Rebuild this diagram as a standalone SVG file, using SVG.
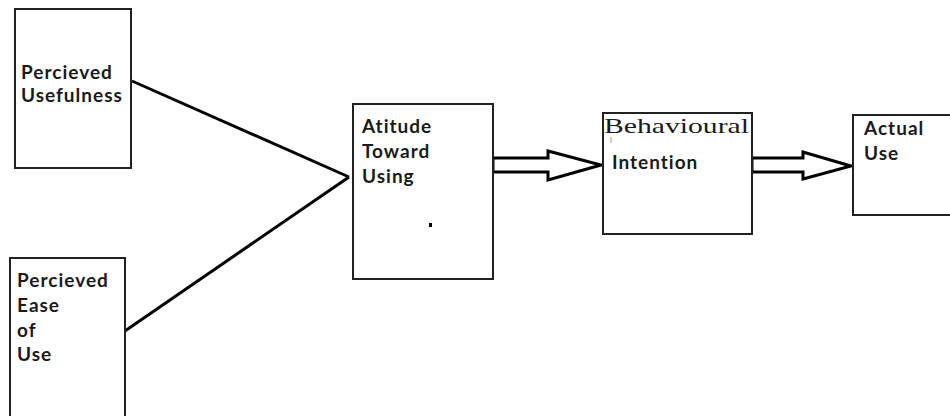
<svg xmlns="http://www.w3.org/2000/svg" width="950" height="416" viewBox="0 0 950 416">
<style>
.box{fill:#fff;stroke:#222;stroke-width:2}
.lbl{font-family:Lato,"Open Sans","Liberation Sans",sans-serif;font-size:19px;font-weight:700;letter-spacing:1px;fill:#1a1a1a}
.serif{font-family:"Liberation Serif","DejaVu Serif",serif;font-size:21px;fill:#1a1a1a}
.conn{fill:none;stroke:#000;stroke-width:3;stroke-linejoin:miter}
.dbl{fill:#fff;stroke:#000;stroke-width:3;stroke-linejoin:miter}
</style>
<rect width="950" height="416" fill="#fff"/>
<g id="connectors">
<line class="conn" x1="132" y1="81" x2="349" y2="177"/>
<line class="conn" x1="122" y1="333" x2="349" y2="177"/>
<polygon class="dbl" points="493,158 548,158 548,151 601,165 548,180 548,172 493,172"/>
<polygon class="dbl" points="752,158 803,158 803,152 851,166 803,179 803,172 752,172"/>
</g>
<g id="perceived-usefulness">
<rect class="box" x="15" y="9" width="116" height="159"/>
<text class="lbl" x="21" y="79">Percieved</text>
<text class="lbl" x="21" y="102">Usefulness</text>
</g>
<g id="perceived-ease-of-use">
<rect class="box" x="10" y="258" width="115" height="170"/>
<text class="lbl" x="17" y="287">Percieved</text>
<text class="lbl" x="17" y="312">Ease</text>
<text class="lbl" x="17" y="337">of</text>
<text class="lbl" x="17" y="361">Use</text>
</g>
<g id="attitude-toward-using">
<rect class="box" x="353" y="104" width="140" height="175"/>
<text class="lbl" x="362" y="133">Atitude</text>
<text class="lbl" x="362" y="158">Toward</text>
<text class="lbl" x="362" y="183">Using</text>
<rect x="429" y="223" width="3" height="4" fill="#000"/>
</g>
<g id="behavioural-intention">
<rect class="box" x="603" y="113" width="149" height="121"/>
<text class="serif" x="604" y="133" textLength="145" lengthAdjust="spacingAndGlyphs">Behavioural</text>
<line x1="611" y1="137" x2="611" y2="143" stroke="#d09050" stroke-width="1"/>
<text class="lbl" x="612" y="169">Intention</text>
</g>
<g id="actual-use">
<rect class="box" x="853" y="115" width="110" height="100"/>
<text class="lbl" x="864" y="135">Actual</text>
<text class="lbl" x="864" y="160">Use</text>
</g>
</svg>
